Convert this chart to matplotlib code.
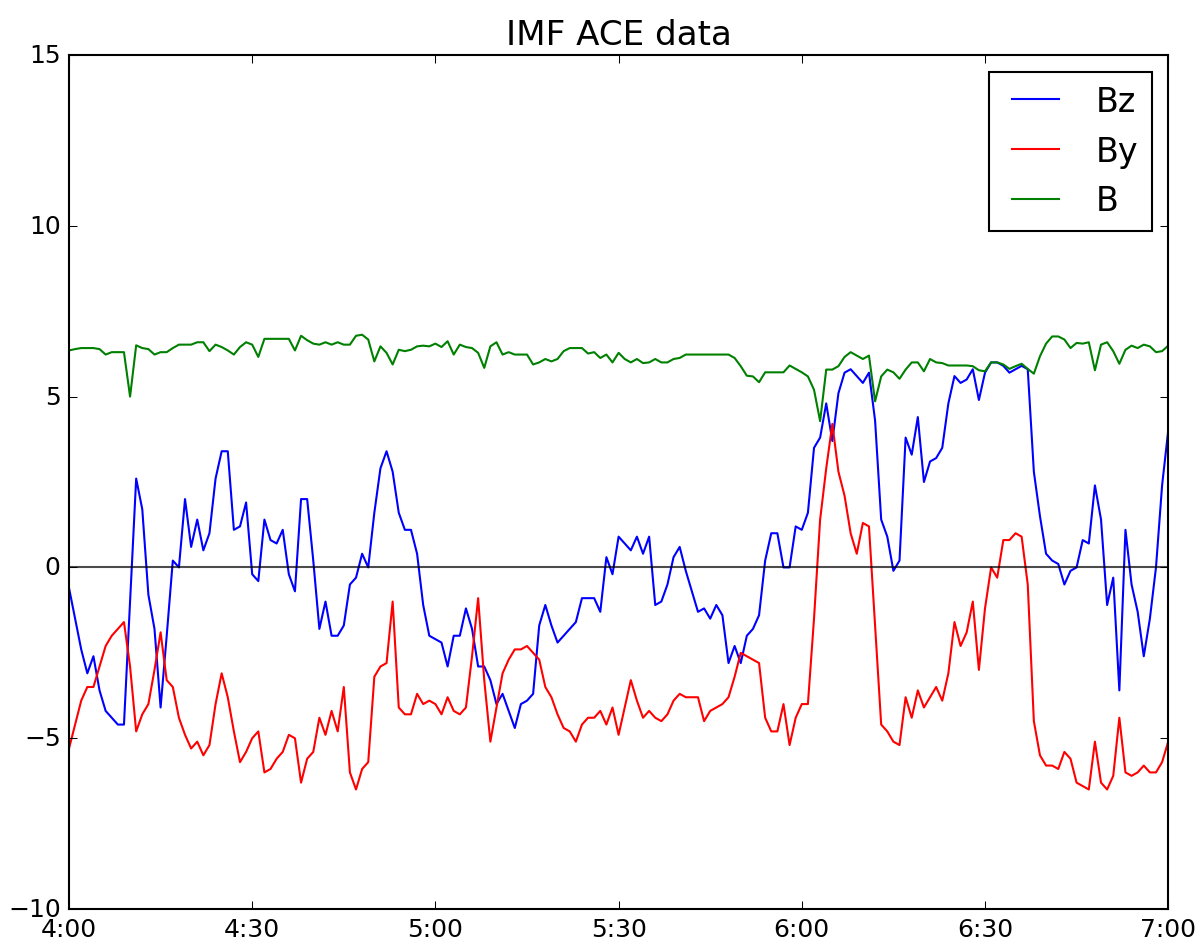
import numpy as np
import matplotlib
matplotlib.use("Agg")
import matplotlib.pyplot as plt

# minutes after 4:00, one sample per minute
minutes = np.arange(0, 181)

bz = [-0.6, -1.5, -2.4, -3.1, -2.6, -3.6, -4.2, -4.4, -4.6, -4.6,
      -1.0, 2.6, 1.7, -0.8, -1.8, -4.1, -2.0, 0.2, 0.0, 2.0,
      0.6, 1.4, 0.5, 1.0, 2.6, 3.4, 3.4, 1.1, 1.2, 1.9,
      -0.2, -0.4, 1.4, 0.8, 0.7, 1.1, -0.2, -0.7, 2.0, 2.0,
      0.2, -1.8, -1.0, -2.0, -2.0, -1.7, -0.5, -0.3, 0.4, 0.0,
      1.6, 2.9, 3.4, 2.8, 1.6, 1.1, 1.1, 0.4, -1.1, -2.0,
      -2.1, -2.2, -2.9, -2.0, -2.0, -1.2, -1.8, -2.9, -2.9, -3.3,
      -4.0, -3.7, -4.2, -4.7, -4.0, -3.9, -3.7, -1.7, -1.1, -1.7,
      -2.2, -2.0, -1.8, -1.6, -0.9, -0.9, -0.9, -1.3, 0.3, -0.2,
      0.9, 0.7, 0.5, 0.9, 0.4, 0.9, -1.1, -1.0, -0.5, 0.3,
      0.6, -0.1, -0.7, -1.3, -1.2, -1.5, -1.1, -1.4, -2.8, -2.3,
      -2.8, -2.0, -1.8, -1.4, 0.2, 1.0, 1.0, 0.0, 0.0, 1.2,
      1.1, 1.6, 3.5, 3.8, 4.8, 3.7, 5.1, 5.7, 5.8, 5.6,
      5.4, 5.7, 4.3, 1.4, 0.9, -0.1, 0.2, 3.8, 3.3, 4.4,
      2.5, 3.1, 3.2, 3.5, 4.8, 5.6, 5.4, 5.5, 5.8, 4.9,
      5.7, 6.0, 6.0, 5.9, 5.7, 5.8, 5.9, 5.8, 2.8, 1.5,
      0.4, 0.2, 0.1, -0.5, -0.1, 0.0, 0.8, 0.7, 2.4, 1.4,
      -1.1, -0.3, -3.6, 1.1, -0.5, -1.3, -2.6, -1.5, 0.0, 2.4,
      4.0]

by = [-5.3, -4.6, -3.9, -3.5, -3.5, -2.9, -2.3, -2.0, -1.8, -1.6,
      -2.9, -4.8, -4.3, -4.0, -3.0, -1.9, -3.3, -3.5, -4.4, -4.9,
      -5.3, -5.1, -5.5, -5.2, -4.0, -3.1, -3.8, -4.8, -5.7, -5.4,
      -5.0, -4.8, -6.0, -5.9, -5.6, -5.4, -4.9, -5.0, -6.3, -5.6,
      -5.4, -4.4, -4.9, -4.2, -4.8, -3.5, -6.0, -6.5, -5.9, -5.7,
      -3.2, -2.9, -2.8, -1.0, -4.1, -4.3, -4.3, -3.7, -4.0, -3.9,
      -4.0, -4.3, -3.8, -4.2, -4.3, -4.1, -2.6, -0.9, -3.3, -5.1,
      -4.1, -3.1, -2.7, -2.4, -2.4, -2.3, -2.5, -2.7, -3.5, -3.8,
      -4.3, -4.7, -4.8, -5.1, -4.6, -4.4, -4.4, -4.2, -4.6, -4.1,
      -4.9, -4.1, -3.3, -3.9, -4.4, -4.2, -4.4, -4.5, -4.3, -3.9,
      -3.7, -3.8, -3.8, -3.8, -4.5, -4.2, -4.1, -4.0, -3.8, -3.2,
      -2.5, -2.6, -2.7, -2.8, -4.4, -4.8, -4.8, -4.0, -5.2, -4.4,
      -4.0, -4.0, -1.5, 1.4, 2.9, 4.2, 2.8, 2.1, 1.0, 0.4,
      1.3, 1.2, -1.7, -4.6, -4.8, -5.1, -5.2, -3.8, -4.4, -3.6,
      -4.1, -3.8, -3.5, -3.9, -3.1, -1.6, -2.3, -1.9, -1.0, -3.0,
      -1.2, 0.0, -0.3, 0.8, 0.8, 1.0, 0.9, -0.5, -4.5, -5.5,
      -5.8, -5.8, -5.9, -5.4, -5.6, -6.3, -6.4, -6.5, -5.1, -6.3,
      -6.5, -6.1, -4.4, -6.0, -6.1, -6.0, -5.8, -6.0, -6.0, -5.7,
      -5.1]

b = [6.35, 6.39, 6.42, 6.42, 6.42, 6.39, 6.23, 6.3, 6.3, 6.3,
     5.0, 6.5, 6.42, 6.39, 6.23, 6.3, 6.3, 6.42, 6.52, 6.52,
     6.52, 6.59, 6.59, 6.33, 6.52, 6.45, 6.35, 6.23, 6.45, 6.59,
     6.52, 6.16, 6.69, 6.69, 6.69, 6.69, 6.69, 6.35, 6.78, 6.65,
     6.55, 6.52, 6.59, 6.52, 6.59, 6.52, 6.52, 6.78, 6.81, 6.67,
     6.03, 6.47, 6.28, 5.94, 6.37, 6.33, 6.37, 6.47, 6.49, 6.47,
     6.55, 6.45, 6.62, 6.23, 6.52, 6.45, 6.42, 6.28, 5.84, 6.47,
     6.59, 6.23, 6.3, 6.23, 6.23, 6.23, 5.94, 6.0, 6.1, 6.03,
     6.1, 6.33, 6.42, 6.42, 6.42, 6.26, 6.3, 6.13, 6.23, 6.0,
     6.28, 6.1, 6.0, 6.1, 5.98, 6.0, 6.1, 6.0, 6.0, 6.1,
     6.13, 6.23, 6.23, 6.23, 6.23, 6.23, 6.23, 6.23, 6.23, 6.13,
     5.89, 5.61, 5.59, 5.42, 5.71, 5.71, 5.71, 5.71, 5.91, 5.81,
     5.71, 5.59, 5.2, 4.28, 5.79, 5.79, 5.89, 6.16, 6.3, 6.2,
     6.1, 6.2, 4.86, 5.59, 5.79, 5.71, 5.52, 5.79, 6.0, 6.0,
     5.74, 6.1, 6.0, 5.98, 5.91, 5.91, 5.91, 5.91, 5.89, 5.77,
     5.74, 6.0, 6.0, 5.94, 5.81, 5.89, 5.96, 5.81, 5.67, 6.18,
     6.55, 6.76, 6.76, 6.67, 6.42, 6.57, 6.55, 6.59, 5.77, 6.52,
     6.59, 6.33, 5.96, 6.37, 6.49, 6.42, 6.52, 6.47, 6.3, 6.33,
     6.49]

tick_pos = [0, 30, 60, 90, 120, 150, 180]
tick_labels = ['4:00', '4:30', '5:00', '5:30', '6:00', '6:30', '7:00']

plt.style.use('classic')

fig = plt.figure(figsize=(8, 6.313), dpi=150, facecolor='white')
ax = fig.add_axes([0.0575, 0.039, 0.916, 0.902])

ax.plot(minutes, bz, 'b', label='Bz')
ax.plot(minutes, by, 'r', label='By')
ax.plot(minutes, b, 'g', label='B')
ax.axhline(0, color='k', alpha=0.7)

ax.set_xlim(0, 180)
ax.set_ylim(-10, 15)
ax.set_xticks(tick_pos)
ax.set_xticklabels(tick_labels)
ax.set_yticks([-10, -5, 0, 5, 10, 15])
ax.set_title('IMF ACE data', fontsize=16.4)
ax.legend(loc='upper right', prop={'size': 16})

fig.savefig('out.png', dpi=150, facecolor='white')
